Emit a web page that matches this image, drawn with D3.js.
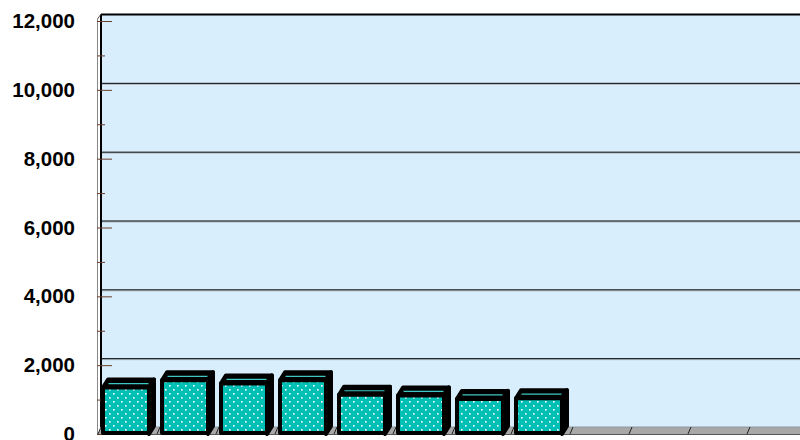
<!DOCTYPE html>
<html>
<head>
<meta charset="utf-8">
<script src="https://cdn.jsdelivr.net/npm/d3@7"></script>
<style>
  body { margin: 0; background: #fff; }
  svg { display: block; font-family: "Liberation Sans", Arial, sans-serif; }
</style>
</head>
<body>
<div id="chart"></div>
<script>
// data
const categories = ["Jan", "Feb", "Mar", "Apr", "May", "Jun", "Jul", "Aug", "Sep", "Oct", "Nov", "Dec"]
const values = [1350, 1560, 1470, 1560, 1140, 1120, 1020, 1040, null, null, null, null]
const yTicks = [0, 2000, 4000, 6000, 8000, 10000, 12000]
const yMinor = [1000, 3000, 5000, 7000, 9000, 11000]

const W = 800, H = 440
const depthX = 3, depthY = 7   // offset back wall vs front

const svg = d3.select("#chart").append("svg")
    .attr("width", W)
    .attr("height", H)

const defs = svg.append("defs")
const pat = defs.append("pattern")
    .attr("id", "dots")
    .attr("patternUnits", "userSpaceOnUse")
    .attr("width", 8)
    .attr("height", 8)
pat.append("rect").attr("width", 8).attr("height", 8).attr("fill", "#00c0b6")
pat.append("rect").attr("x", 1).attr("y", 1).attr("width", 1.6).attr("height", 1.6).attr("fill", "#fff")
pat.append("rect").attr("x", 5).attr("y", 5).attr("width", 1.6).attr("height", 1.6).attr("fill", "#fff")

// front scale (bars, ticks) and back scale (walls, gridlines)
const y = d3.scaleLinear().domain([0, 12000]).range([434, 21])
const yBack = v => y(v) - depthY

const x = d3.scaleBand()
    .domain(categories)
    .range([98, 806])
    .padding(0)

const backLeft = 98 + depthX
const floorTop = yBack(0)
const front0 = y(0)

// back wall
svg.append("rect")
    .attr("x", backLeft)
    .attr("y", yBack(12000))
    .attr("width", W - backLeft)
    .attr("height", floorTop - yBack(12000))
    .attr("fill", "#d9eefc")

// gridlines on back wall
svg.selectAll(".grid2")
    .data(yTicks.filter(d => d > 0 && d < 12000))
    .enter()
    .append("line")
    .attr("x1", backLeft)
    .attr("x2", W)
    .attr("y1", d => yBack(d) + 1.5)
    .attr("y2", d => yBack(d) + 1.5)
    .attr("stroke", "#aab6c0")
    .attr("stroke-width", 1)

svg.selectAll(".grid")
    .data(yTicks.filter(d => d > 0))
    .enter()
    .append("line")
    .attr("class", "grid")
    .attr("x1", backLeft)
    .attr("x2", W)
    .attr("y1", d => yBack(d) + 0.5)
    .attr("y2", d => yBack(d) + 0.5)
    .attr("stroke", "#000")
    .attr("stroke-width", d => d == 12000 ? 2 : 1)

// left wall
svg.append("line")
    .attr("x1", backLeft).attr("x2", backLeft)
    .attr("y1", yBack(12000)).attr("y2", floorTop)
    .attr("stroke", "#000").attr("stroke-width", 2)
svg.append("line")
    .attr("x1", 97.5).attr("x2", 97.5)
    .attr("y1", y(12000) - 2).attr("y2", front0)
    .attr("stroke", "#888").attr("stroke-width", 1)
svg.append("line")
    .attr("x1", 97.5).attr("x2", backLeft)
    .attr("y1", y(12000) - 2).attr("y2", yBack(12000))
    .attr("stroke", "#555").attr("stroke-width", 1)

// floor
svg.append("path")
    .attr("d", `M98,${front0} L${backLeft},${floorTop} L${W},${floorTop} L${W},${front0} Z`)
    .attr("fill", "#a8a8a8")
svg.append("line")
    .attr("x1", backLeft).attr("x2", W)
    .attr("y1", floorTop).attr("y2", floorTop)
    .attr("stroke", "#8a9aa4").attr("stroke-width", 1)
svg.append("line")
    .attr("x1", 98).attr("x2", W)
    .attr("y1", front0 + 0.5).attr("y2", front0 + 0.5)
    .attr("stroke", "#555").attr("stroke-width", 1)

// category ticks on floor
svg.selectAll(".ctick")
    .data(categories)
    .enter()
    .append("line")
    .attr("x1", d => x(d))
    .attr("y1", front0)
    .attr("x2", d => x(d) + depthX)
    .attr("y2", floorTop)
    .attr("stroke", "#222")
    .attr("stroke-width", 1)

// y ticks
svg.selectAll(".ytick")
    .data(yTicks)
    .enter()
    .append("line")
    .attr("x1", 97)
    .attr("x2", 112)
    .attr("y1", d => y(d) + 0.5)
    .attr("y2", d => y(d) + 0.5)
    .attr("stroke", "#6a3f2c")
    .attr("stroke-width", 1)

svg.selectAll(".ymin")
    .data(yMinor)
    .enter()
    .append("line")
    .attr("x1", 97)
    .attr("x2", 105)
    .attr("y1", d => y(d) + 0.5)
    .attr("y2", d => y(d) + 0.5)
    .attr("stroke", "#6a3f2c")
    .attr("stroke-width", 1)

svg.selectAll(".ylab")
    .data(yTicks)
    .enter()
    .append("text")
    .attr("x", 75)
    .attr("y", d => y(d) + 7)
    .attr("text-anchor", "end")
    .attr("font-size", "20.5px")
    .attr("font-weight", "bold")
    .attr("fill", "#000")
    .text(d => d3.format(",")(d))

// bars (3D boxes)
const bw = x.bandwidth()
const bdx = 5, bdy = 8
const barData = categories.map((c, i) => ({cat: c, v: values[i]})).filter(d => d.v != null)

const bars = svg.selectAll(".bar")
    .data(barData)
    .enter()
    .append("g")
    .attr("class", "bar")

// right side
bars.append("path")
    .attr("d", d => {
        const x1 = x(d.cat) + bw - 8, yt = y(d.v)
        return `M${x1},${yt} L${x1 + bdx},${yt - bdy} L${x1 + bdx},${front0 - bdy} L${x1},${front0} Z`
    })
    .attr("fill", "#000")
    .attr("stroke", "#000")
    .attr("stroke-width", 4)
    .attr("stroke-linejoin", "round")

// top
bars.append("path")
    .attr("d", d => {
        const x0 = x(d.cat) + 5, x1 = x(d.cat) + bw - 8, yt = y(d.v)
        return `M${x0},${yt} L${x0 + bdx},${yt - bdy} L${x1 + bdx},${yt - bdy} L${x1},${yt} Z`
    })
    .attr("fill", "#000")
    .attr("stroke", "#000")
    .attr("stroke-width", 4)
    .attr("stroke-linejoin", "round")

bars.append("line")
    .attr("x1", d => x(d.cat) + 5 + bdx / 2 + 3)
    .attr("x2", d => x(d.cat) + bw - 8 + bdx / 2 - 3)
    .attr("y1", d => y(d.v) - bdy / 2)
    .attr("y2", d => y(d.v) - bdy / 2)
    .attr("stroke", "#3cc8c0")
    .attr("stroke-width", 1.2)

// front face
bars.append("rect")
    .attr("x", d => x(d.cat) + 5)
    .attr("y", d => y(d.v))
    .attr("width", bw - 13)
    .attr("height", d => front0 - 1 - y(d.v))
    .attr("fill", "url(#dots)")
    .attr("stroke", "#000")
    .attr("stroke-width", 4)
    .attr("stroke-linejoin", "round")
</script>
</body>
</html>
